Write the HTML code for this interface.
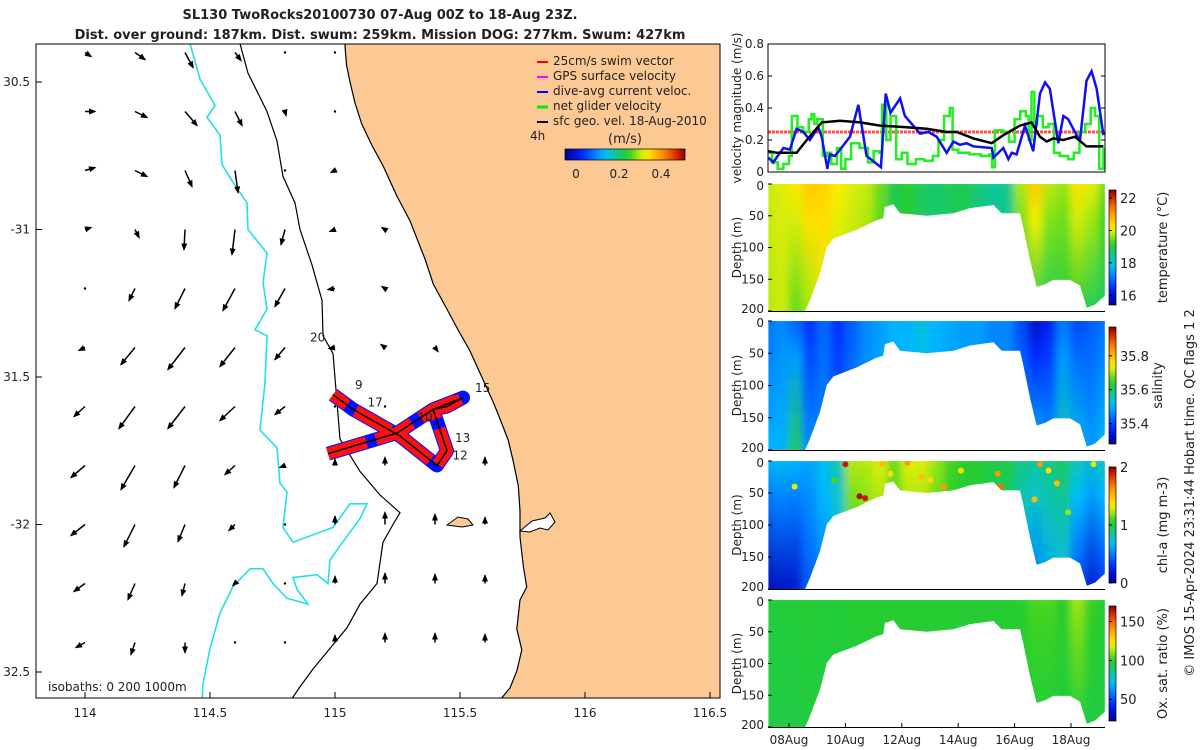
<!DOCTYPE html>
<html><head><meta charset="utf-8"><style>
body{margin:0;background:#fff;}
svg{display:block;font-family:"DejaVu Sans","Liberation Sans",sans-serif;}
text{fill:#222;}
</style></head><body>
<svg id="root" width="1200" height="750" viewBox="0 0 1200 750">
<defs>
<marker id="ah" viewBox="0 0 10 10" refX="8" refY="5" markerWidth="5" markerHeight="5" orient="auto"><path d="M0,1 L10,5 L0,9 z" fill="#000"/></marker>
<linearGradient id="jetH" x1="0" x2="1" y1="0" y2="0"></linearGradient>
<linearGradient id="jetV" x1="0" x2="0" y1="1" y2="0"></linearGradient>
<filter id="blur" x="-5%" y="-5%" width="110%" height="110%"><feGaussianBlur stdDeviation="4"/></filter>
<clipPath id="mapclip"><rect x="36" y="44" width="684" height="654"/></clipPath>
</defs>
<text x="380" y="19" font-size="13" font-weight="bold" text-anchor="middle">SL130 TwoRocks20100730 07-Aug 00Z to 18-Aug 23Z.</text>
<text x="380" y="39" font-size="13" font-weight="bold" text-anchor="middle">Dist. over ground: 187km. Dist. swum: 259km. Mission DOG: 277km. Swum: 427km</text>
<g id="map"></g>
<g id="vel"></g>
<g id="secs"></g>
<text transform="translate(1194,493) rotate(-90)" font-size="13" text-anchor="middle">© IMOS 15-Apr-2024 23:31:44 Hobart time. QC flags 1  2</text>
</svg>
<script>
// ---------- map data ----------
const arrowLons=[114.0,114.2,114.4,114.6,114.8,115.0,115.2,115.4,115.6,115.8];
const arrowLats=[-30.4,-30.6,-30.8,-31.0,-31.2,-31.4,-31.6,-31.8,-32.0,-32.2,-32.4];
const arrowU=[
[.06,.10,.08,.06,.01,0,null,null,null,null],
[.10,.12,.12,.07,.01,0,null,null,null,null],
[.10,.12,.07,.03,0,-.04,null,null,null,null],
[.06,.04,-.01,-.03,-.04,-.05,-.03,null,null,null],
[0,-.06,-.10,-.12,-.10,-.07,-.03,null,null,null],
[-.06,-.14,-.17,-.15,-.10,-.06,-.04,.03,null,null],
[-.11,-.16,-.17,-.15,-.10,0,0,0,null,null],
[-.14,-.14,-.11,-.10,-.05,0,0,0,0,null],
[-.14,-.11,-.07,-.06,0,0,0,0,0,null],
[-.11,-.07,-.03,-.02,0,0,0,0,0,null],
[-.09,-.04,0,0,0,0,0,0,0,null]];
const arrowV=[
[-.04,-.07,-.15,-.08,-.02,-.01,null,null,null,null],
[0,-.06,-.14,-.14,-.04,-.01,null,null,null,null],
[.03,-.06,-.16,-.22,-.01,-.02,null,null,null,null],
[.02,-.08,-.20,-.25,-.15,-.02,.02,null,null,null],
[-.005,-.12,-.20,-.22,-.18,-.01,.02,null,null,null],
[-.03,-.17,-.22,-.19,-.12,-.01,.03,-.04,null,null],
[-.10,-.22,-.22,-.14,-.08,.02,.02,.03,null,null],
[-.12,-.24,-.22,-.09,-.02,.06,.08,.08,.08,null],
[-.11,-.22,-.17,-.06,-.01,.08,.12,.10,.07,null],
[-.08,-.16,-.12,-.02,-.01,.07,.10,.09,.08,null],
[-.05,-.12,-.10,-.01,-.01,.07,.09,.09,.08,null]];
const coastLon=[115.04,115.046,115.06,115.08,115.107,115.147,115.193,115.247,115.30,115.36,115.393,115.447,115.493,115.54,115.587,115.633,115.66,115.693,115.713,115.733,115.74,115.74,115.753,115.767,115.74,115.727,115.747,115.727,115.70,115.66];
const coastLat=[-30.378,-30.442,-30.5,-30.571,-30.642,-30.714,-30.785,-30.886,-30.971,-31.1,-31.185,-31.269,-31.341,-31.412,-31.5,-31.585,-31.642,-31.714,-31.785,-31.869,-31.954,-32.042,-32.141,-32.212,-32.256,-32.354,-32.425,-32.497,-32.554,-32.595];
const iso200Lon=[114.62,114.652,114.728,114.768,114.792,114.84,114.86,114.908,114.948,114.952,114.992,115.02,115.1,115.18,115.26,115.232,115.192,115.18,115.168,115.1,115.048,114.98,114.912,114.86,114.82];
const iso200Lat=[-30.37,-30.47,-30.6,-30.7,-30.82,-30.91,-31.0,-31.12,-31.24,-31.36,-31.42,-31.71,-31.82,-31.9,-31.96,-32.0,-32.06,-32.13,-32.2,-32.27,-32.35,-32.42,-32.49,-32.55,-32.6];
const iso1000Lon=[114.42,114.46,114.52,114.488,114.54,114.548,114.592,114.648,114.652,114.728,114.712,114.728,114.68,114.728,114.72,114.7,114.768,114.78,114.808,114.792,114.832,114.992,115.06,115.128,115.1,115.048,114.98,114.972,114.928,114.832,114.848,114.892,114.808,114.752,114.712,114.66,114.592,114.54,114.5,114.472,114.468];
const iso1000Lat=[-30.37,-30.49,-30.58,-30.62,-30.68,-30.78,-30.84,-30.91,-31.0,-31.08,-31.18,-31.27,-31.34,-31.36,-31.52,-31.68,-31.74,-31.86,-31.89,-32.01,-32.06,-32.01,-31.93,-31.93,-31.98,-32.04,-32.12,-32.2,-32.17,-32.18,-32.22,-32.27,-32.25,-32.2,-32.15,-32.15,-32.21,-32.3,-32.42,-32.54,-32.6];
const trackLon=[114.972,115.248,115.392,115.512,115.448,115.392,115.448,115.408,115.26,115.072,114.992];
const trackLat=[-31.76,-31.69,-31.61,-31.57,-31.6,-31.61,-31.75,-31.8,-31.7,-31.61,-31.56];
const trackLabels=["20","9","17","10","13","12","15"];
const trackLabelLon=[114.9,115.08,115.13,115.33,115.48,115.47,115.56];
const trackLabelLat=[-31.38,-31.54,-31.6,-31.65,-31.72,-31.78,-31.55];

// ---------- velocity data ----------
const blueDays=[7.27,7.44,7.8,8.03,8.27,8.51,8.74,9.04,9.16,9.36,9.45,9.63,9.81,10.16,10.46,10.75,11.26,11.43,11.6,11.94,12.11,12.65,12.94,13.24,13.59,13.83,14.06,14.3,14.54,15.19,15.25,15.6,15.78,15.9,16.07,16.37,16.66,16.9,17.08,17.25,17.55,17.73,17.9,18.26,18.32,18.55,18.73,18.91,19.15];
const blueVals=[0.09,0.06,0.15,0.14,0.27,0.25,0.2,0.28,0.22,0.02,0.11,0.1,0.14,0.22,0.42,0.1,0.03,0.49,0.37,0.46,0.35,0.24,0.25,0.22,0.12,0.19,0.17,0.18,0.16,0.15,0.09,0.15,0.08,0.12,0.11,0.29,0.13,0.49,0.56,0.52,0.18,0.35,0.33,0.21,0.2,0.57,0.63,0.52,0.23];
const greenDays=[7.27,7.4,7.6,7.8,8.0,8.1,8.3,8.5,8.7,8.8,8.9,9.0,9.2,9.35,9.5,9.7,9.85,10.0,10.2,10.5,10.8,11.0,11.2,11.3,11.45,11.6,11.8,12.0,12.2,12.5,12.8,13.1,13.3,13.5,13.7,13.8,14.0,14.4,14.8,15.1,15.2,15.3,15.6,15.8,16.0,16.2,16.4,16.5,16.6,16.7,16.8,17.0,17.2,17.4,17.6,17.9,18.1,18.3,18.5,18.7,18.85,19.0,19.15];
const greenVals=[0.12,0.06,0.02,0.05,0.1,0.35,0.28,0.25,0.33,0.36,0.3,0.33,0.1,0.12,0.05,0.15,0.02,0.08,0.18,0.15,0.06,0.13,0.12,0.42,0.2,0.35,0.08,0.12,0.05,0.08,0.07,0.1,0.2,0.35,0.4,0.14,0.12,0.11,0.1,0.11,0.03,0.26,0.25,0.19,0.33,0.38,0.35,0.2,0.5,0.3,0.35,0.28,0.3,0.12,0.1,0.08,0.12,0.25,0.3,0.4,0.35,0.02,0.15];
const blackDays=[7.27,7.56,8.27,8.63,9.16,9.81,10.52,11.23,12.17,12.88,13.59,13.95,14.54,15.19,15.6,16.19,16.6,16.9,17.14,17.37,17.73,18.14,18.55,18.79,19.15];
const blackVals=[0.13,0.12,0.12,0.2,0.31,0.32,0.31,0.29,0.28,0.27,0.25,0.25,0.21,0.18,0.23,0.29,0.31,0.22,0.19,0.21,0.2,0.22,0.16,0.16,0.16];
const swimVal=0.25;

// ---------- section data ----------
const maskDays=[7.27,8.57,8.74,9.1,9.34,9.57,10.4,11.1,11.34,11.4,11.7,11.94,12.88,13.83,14.42,15.25,15.54,16.19,16.3,16.55,16.78,17.08,17.37,17.96,18.32,18.56,18.85,19.2];
const maskDepth=[200,200,183,141,99,86,72,57,54,36,32,46,50,46,38,33,46,46,67,120,162,158,151,151,160,195,190,176];
const colDays=[7.25,7.75,8.25,8.75,9.25,9.75,10.25,10.75,11.25,11.75,12.25,12.75,13.25,13.75,14.25,14.75,15.25,15.75,16.25,16.75,17.25,17.75,18.25,18.75,19.25];
const tempTop=[19.9,20.0,20.2,20.6,20.5,20.2,20.0,19.9,19.5,18.9,19.1,18.8,18.7,18.8,18.9,18.6,18.4,18.5,19.8,20.6,19.9,19.7,20.3,20.1,19.5];
const tempBot=[19.8,19.9,19.4,19.7,20.0,19.7,19.7,19.5,19.2,18.9,19.0,18.7,18.6,18.8,18.8,18.5,18.3,18.4,18.9,18.9,18.8,19.0,19.1,18.8,18.7];
const salTop=[35.44,35.46,35.42,35.38,35.43,35.38,35.42,35.46,35.48,35.5,35.5,35.53,35.5,35.49,35.48,35.48,35.46,35.46,35.4,35.32,35.36,35.44,35.4,35.42,35.44];
const salBot=[35.5,35.5,35.62,35.47,35.46,35.44,35.46,35.48,35.49,35.5,35.5,35.5,35.49,35.48,35.48,35.48,35.46,35.46,35.48,35.52,35.48,35.56,35.52,35.48,35.52];
const chlTop=[0.65,0.7,0.65,0.6,0.7,0.8,1.25,1.25,1.3,1.15,1.3,1.3,1.2,1.1,1.05,1.05,1.0,1.0,0.9,0.85,0.9,0.95,0.8,0.75,0.8];
const chlBot=[0.1,0.12,0.15,0.4,0.5,0.65,0.95,1.05,1.1,1.05,1.1,1.1,1.05,1.0,0.95,0.95,0.9,0.9,0.6,0.5,0.6,0.65,0.35,0.15,0.3];
const oxTop=[98,98,98,99,98,98,99,99,99,99,99,99,99,99,99,99,99,99,100,104,104,100,112,102,99];
const oxBot=[96,96,96,97,97,97,98,98,98,98,98,98,98,98,98,98,98,98,97,97,97,97,97,96,96];
const chlDotDay=[10.0,10.5,10.7,11.3,11.6,12.2,12.4,12.7,13.0,13.5,14.1,15.4,15.5,16.9,17.2,17.5,17.9,18.8,8.2,9.6,16.7];
const chlDotDepth=[5,55,58,5,20,3,10,25,30,40,15,20,40,5,15,35,80,5,40,30,60];
const chlDotVal=[1.9,1.95,1.9,1.5,1.4,1.6,1.3,1.5,1.4,1.6,1.4,1.6,1.7,1.6,1.4,1.5,1.2,1.3,1.3,1.1,1.5];

// ---------- helpers ----------
const NS="http://www.w3.org/2000/svg";
function mk(tag,attrs,parent){const e=document.createElementNS(NS,tag);for(const k in attrs)e.setAttribute(k,attrs[k]);if(parent)parent.appendChild(e);return e;}
const CM=[[0,0,0,140],[0.13,0,30,255],[0.33,0,190,255],[0.45,20,200,120],[0.53,40,205,40],[0.6,150,230,20],[0.67,255,240,0],[0.82,255,140,0],[0.93,220,40,0],[1,130,0,0]];
function jet(t){t=Math.max(0,Math.min(1,t));for(let i=1;i<CM.length;i++){if(t<=CM[i][0]){const a=CM[i-1],b=CM[i],f=(t-a[0])/(b[0]-a[0]);return `rgb(${Math.round(a[1]+f*(b[1]-a[1]))},${Math.round(a[2]+f*(b[2]-a[2]))},${Math.round(a[3]+f*(b[3]-a[3]))})`;}}return 'rgb(130,0,0)';}
['jetH','jetV'].forEach(id=>{const g=document.getElementById(id);for(let i=0;i<=20;i++)mk('stop',{offset:i/20,'stop-color':jet(i/20)},g);});
const lx=lon=>85+(lon-114)*250;
const ly=lat=>82+(-30.5-lat)*295;
const dx=day=>789+(day-8)*28.2;

// ---------- map ----------
const map=document.getElementById('map');
const mg=mk('g',{'clip-path':'url(#mapclip)'},map);
let lp='M'+lx(coastLon[0]).toFixed(1)+',30 L'+coastLon.map((v,i)=>lx(v).toFixed(1)+','+ly(coastLat[i]).toFixed(1)).join(' L')+' L760,720 L760,30 Z';
const land=mk('path',{d:lp,fill:'#fcc995',stroke:'#000','stroke-width':1.2},mg);


const island=mk('path',{d:'M447,525 L458,517 L468,519 L473,525 L462,527 Z',fill:'#fcc995',stroke:'#000','stroke-width':1},mg);


const spit=mk('path',{d:'M520,531 L532,521 L545,518 L550,513 L555,522 L548,530 L540,528 L530,532 Z',fill:'#fff',stroke:'#000','stroke-width':1},mg);


const i200=mk('polyline',{points:iso200Lon.map((v,i)=>lx(v)+','+ly(iso200Lat[i])).join(' '),fill:'none',stroke:'#000','stroke-width':1.2},mg);


const i1000=mk('polyline',{points:iso1000Lon.map((v,i)=>lx(v)+','+ly(iso1000Lat[i])).join(' '),fill:'none',stroke:'#22e0e8','stroke-width':1.6},mg);


for(let j=0;j<arrowLats.length;j++)for(let i=0;i<arrowLons.length;i++){
 const u=arrowU[j][i],v=arrowV[j][i]; if(u===null)continue;
 const x0=lx(arrowLons[i]),y0=ly(arrowLats[j]);
 const len=Math.hypot(u,v)*100;
 let a;
 if(len<2.5){a=mk('circle',{cx:x0,cy:y0,r:1.2,fill:'#000'},mg);}
 else a=mk('line',{x1:x0,y1:y0,x2:x0+u*100,y2:y0-v*100,stroke:'#000','stroke-width':1.5,'marker-end':'url(#ah)'},mg);
 
 
}
const tp=trackLon.map((v,i)=>lx(v).toFixed(1)+','+ly(trackLat[i]).toFixed(1)).join(' ');
const tb=mk('polyline',{points:tp,fill:'none',stroke:'#0010ff','stroke-width':14,'stroke-linejoin':'round'},mg);


const tr=mk('polyline',{points:tp,fill:'none',stroke:'#ff1010','stroke-width':12,'stroke-linejoin':'round','stroke-dasharray':'40 10'},mg);


const tk=mk('polyline',{points:tp,fill:'none',stroke:'#000','stroke-width':1.5},mg);


trackLabels.forEach((s,i)=>{const t=mk('text',{x:lx(trackLabelLon[i]),y:ly(trackLabelLat[i]),'font-size':12},mg);t.textContent=s;

});
const fr=mk('rect',{x:36,y:44,width:684,height:654,fill:'none',stroke:'#000','stroke-width':1},map);


const xt=[114,114.5,115,115.5,116,116.5], xtl=["114","114.5","115","115.5","116","116.5"];
xt.forEach((v,i)=>{mk('line',{x1:lx(v),x2:lx(v),y1:698,y2:692,stroke:'#000'},map);
 const t=mk('text',{x:lx(v),y:717,'font-size':12,'text-anchor':'middle'},map);t.textContent=xtl[i];
 
 });
const yt=[-30.5,-31,-31.5,-32,-32.5], ytl=["30.5","-31","31.5","-32","32.5"];
yt.forEach((v,i)=>{mk('line',{x1:36,x2:42,y1:ly(v),y2:ly(v),stroke:'#000'},map);
 const t=mk('text',{x:30,y:ly(v)+4,'font-size':12,'text-anchor':'end'},map);t.textContent=ytl[i];
 
 });
const iso=mk('text',{x:48,y:691,'font-size':12},map);iso.textContent='isobaths: 0   200  1000m';


const legItems=["25cm/s swim vector","GPS surface velocity","dive-avg current veloc.","net glider velocity","sfc geo. vel. 18-Aug-2010"];
const legCols=["#ff0000","#ff00ff","#0000ff","#00ee00","#000000"];
legItems.forEach((s,i)=>{const y=61+i*15;
 const l=mk('line',{x1:537,x2:548,y1:y+1,y2:y+1,stroke:legCols[i],'stroke-width':i==3?3:2},map);
 
 
 const t=mk('text',{x:553,y:y+4,'font-size':12},map);t.textContent=s;
 
 });
const h4=mk('text',{x:530,y:140,'font-size':12},map);h4.textContent='4h';


const ms=mk('text',{x:625,y:143,'font-size':13,'text-anchor':'middle'},map);ms.textContent='(m/s)';


const cb=mk('rect',{x:565,y:149,width:120,height:11,fill:'url(#jetH)',stroke:'#000','stroke-width':0.7},map);


[["0",576],["0.2",619],["0.4",661]].forEach(p=>{const t=mk('text',{x:p[1],y:178,'font-size':12,'text-anchor':'middle'},map);t.textContent=p[0];
 
 });

// ---------- velocity panel ----------
const vel=document.getElementById('vel');
const vy=v=>172-v*160;
const vline=(d,v,col,w,step,name)=>{let pts=[];
 d.forEach((x,i)=>{if(step&&i>0)pts.push(dx(x)+','+vy(v[i-1]));pts.push(dx(x)+','+vy(v[i]));});
 const p=mk('polyline',{points:pts.join(' '),fill:'none',stroke:col,'stroke-width':w},vel);
 
 };
const sw=mk('line',{x1:768,x2:1105,y1:vy(swimVal),y2:vy(swimVal),stroke:'#ff5050','stroke-width':3,'stroke-dasharray':'3 1'},vel);


vline(greenDays,greenVals,'#22ee22',2.5,true,'net-glider-velocity-line');
vline(blueDays,blueVals,'#1010ee',2.5,false,'dive-avg-current-line');
vline(blackDays,blackVals,'#000',2.5,false,'geo-velocity-line');
const vf=mk('rect',{x:768,y:44,width:337,height:128,fill:'none',stroke:'#000'},vel);


[0,0.2,0.4,0.6,0.8].forEach(v=>{mk('line',{x1:768,x2:772,y1:vy(v),y2:vy(v),stroke:'#000'},vel);mk('line',{x1:1101,x2:1105,y1:vy(v),y2:vy(v),stroke:'#000'},vel);
 const t=mk('text',{x:764,y:vy(v)+4,'font-size':12,'text-anchor':'end'},vel);t.textContent=v===0?'0':v.toFixed(1);
 
 });
const vt=mk('text',{transform:'translate(741,108) rotate(-90)','font-size':12,'text-anchor':'middle'},vel);vt.textContent='velocity magnitude (m/s)';



// ---------- sections ----------
const secs=document.getElementById('secs');
const panels=[
 {top:184,bot:311,top_v:tempTop,bot_v:tempBot,min:15.4,max:22.5,ticks:[16,18,20,22],tl:["16","18","20","22"],label:"temperature (°C)",name:"temperature"},
 {top:321,bot:450,top_v:salTop,bot_v:salBot,min:35.28,max:35.97,ticks:[35.4,35.6,35.8],tl:["35.4","35.6","35.8"],label:"salinity",name:"salinity"},
 {top:461,bot:589,top_v:chlTop,bot_v:chlBot,min:0,max:2,ticks:[0,1,2],tl:["0","1","2"],label:"chl-a (mg m-3)",name:"chlorophyll"},
 {top:600,bot:727,top_v:oxTop,bot_v:oxBot,min:22,max:170,ticks:[50,100,150],tl:["50","100","150"],label:"Ox. sat. ratio (%)",name:"oxygen"}];
panels.forEach((P,k)=>{
 const H=P.bot-P.top, dy=d=>P.top+d/200*H;
 const cp=mk('clipPath',{id:'clip'+k},secs);
 let d='M'+dx(maskDays[0])+','+P.top;
 maskDays.forEach((x,i)=>d+=' L'+dx(x).toFixed(1)+','+dy(maskDepth[i]).toFixed(1));
 d+=' L'+dx(maskDays[maskDays.length-1])+','+P.top+' Z';
 mk('path',{d:d},cp);
 const g=mk('g',{'clip-path':'url(#clip'+k+')'},secs);
 
 
 const gb=mk('g',{filter:'url(#blur)'},g);
 const nrm=v=>(v-P.min)/(P.max-P.min);
 colDays.forEach((c,i)=>{
  const gid='g'+k+'_'+i;const lg=mk('linearGradient',{id:gid,x1:0,x2:0,y1:0,y2:1},secs);
  mk('stop',{offset:0,'stop-color':jet(nrm(P.top_v[i]))},lg);
  mk('stop',{offset:0.3,'stop-color':jet(nrm(P.top_v[i]*0.7+P.bot_v[i]*0.3))},lg);
  mk('stop',{offset:1,'stop-color':jet(nrm(P.bot_v[i]))},lg);
  const r=mk('rect',{x:dx(c-0.27),y:P.top-6,width:0.54*28.2+1,height:H+12,fill:'url(#'+gid+')'},gb);
  
  
 });
 if(k===2){chlDotDay.forEach((x,i)=>{const c=mk('circle',{cx:dx(x),cy:dy(chlDotDepth[i]),r:3,fill:jet(nrm(chlDotVal[i]))},g);
  
  });}
 mk('line',{x1:768,x2:1105,y1:P.bot+0.5,y2:P.bot+0.5,stroke:'#000'},secs);
 [0,50,100,150,200].forEach(v=>{mk('line',{x1:768,x2:772,y1:dy(v),y2:dy(v),stroke:'#000'},secs);
  const t=mk('text',{x:764,y:dy(v)+(v===0?6:v===200?2:4),'font-size':12,'text-anchor':'end'},secs);t.textContent=String(v);
  
  });
 const yl=mk('text',{transform:`translate(741,${(P.top+P.bot)/2}) rotate(-90)`,'font-size':12,'text-anchor':'middle'},secs);yl.textContent='Depth (m)';
 
 
 const cy=v=>P.bot-6-(v-P.min)/(P.max-P.min)*(H-12);
 const cbr=mk('rect',{x:1109,y:P.top+6,width:7,height:H-12,fill:'url(#jetV)',stroke:'#000','stroke-width':0.7},secs);
 
 
 P.ticks.forEach((v,i)=>{mk('line',{x1:1109,x2:1112,y1:cy(v),y2:cy(v),stroke:'#000'},secs);
  const t=mk('text',{x:1120,y:cy(v)+5,'font-size':13},secs);t.textContent=P.tl[i];
  
  });
 const cl=mk('text',{transform:`translate(${k===1?1162:1167},${(P.top+P.bot)/2}) rotate(-90)`,'font-size':13,'text-anchor':'middle'},secs);cl.textContent=P.label;
 
 
});
const dateDays=[8,10,12,14,16,18], dateLabels=["08Aug","10Aug","12Aug","14Aug","16Aug","18Aug"];
dateDays.forEach((d,i)=>{mk('line',{x1:dx(d),x2:dx(d),y1:727,y2:723,stroke:'#000'},secs);
 const t=mk('text',{x:dx(d),y:744,'font-size':12,'text-anchor':'middle'},secs);t.textContent=dateLabels[i];
 
 });
</script>
</body></html>
